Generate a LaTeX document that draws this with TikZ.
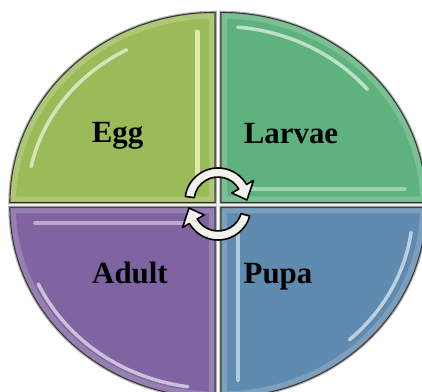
\documentclass[tikz,border=0pt]{standalone}
\usepackage{fontspec}
\setmainfont{Liberation Serif}
\usetikzlibrary{calc}

\definecolor{eggc}{HTML}{9BBB59}
\definecolor{larvaec}{HTML}{5EB27D}
\definecolor{adultc}{HTML}{8064A2}
\definecolor{pupac}{HTML}{5E8BAF}
\definecolor{arrowc}{HTML}{F2F2EC}

% one quarter of the ellipse, corner at #1, arc from #2 to #3
\newcommand{\qpath}[3]{(#1) -- ++(#2:205 and 190)
  arc[start angle=#2, end angle=#3, x radius=205, y radius=190] -- cycle}

\begin{document}
\begin{tikzpicture}[
  x=1bp, y=1bp,
  quad/.style={draw=black!85, line width=1.1bp},
  halo/.style={draw=black!30, line width=3.5bp},
  bevel/.style={draw=white, opacity=0.18, line width=12bp},
  shine/.style={draw=white, opacity=0.6, line width=3.5bp, line cap=round},
  cyc/.style={draw=black, line width=1.6bp, fill=arrowc, line join=round},
  lbl/.style={font=\fontsize{31}{31}\selectfont\bfseries, anchor=base, inner sep=0pt},
]
\useasboundingbox (0,0) rectangle (422,392);
\clip (0,0) rectangle (422,392);

\coordinate (qEgg) at (215,189.5);
\coordinate (qLarvae) at (221,189.5);
\coordinate (qAdult) at (215,184.5);
\coordinate (qPupa) at (221,184.5);

% quarters
\path[halo] \qpath{qEgg}{90}{180};
\path[halo] \qpath{qLarvae}{0}{90};
\path[halo] \qpath{qAdult}{180}{270};
\path[halo] \qpath{qPupa}{270}{360};

\path[quad, fill=eggc] \qpath{qEgg}{90}{180};
\path[quad, fill=larvaec] \qpath{qLarvae}{0}{90};
\path[quad, fill=adultc] \qpath{qAdult}{180}{270};
\path[quad, fill=pupac] \qpath{qPupa}{270}{360};

\begin{scope}
  \clip \qpath{qEgg}{90}{180};
  \path[bevel] \qpath{qEgg}{90}{180};
\end{scope}
\begin{scope}
  \clip \qpath{qLarvae}{0}{90};
  \path[bevel] \qpath{qLarvae}{0}{90};
\end{scope}
\begin{scope}
  \clip \qpath{qAdult}{180}{270};
  \path[bevel] \qpath{qAdult}{180}{270};
\end{scope}
\begin{scope}
  \clip \qpath{qPupa}{270}{360};
  \path[bevel] \qpath{qPupa}{270}{360};
\end{scope}

% highlights
\draw[shine] ($(qEgg)+(118:188 and 173)$)
  arc[start angle=118, end angle=168, x radius=188, y radius=173];
\draw[shine, draw=yellow!15, line width=5bp, opacity=0.7] (197,360) -- (197,205);
\draw[shine] ($(qLarvae)+(85:191 and 176)$)
  arc[start angle=85, end angle=40, x radius=191, y radius=176];
\draw[shine, draw=green!10, opacity=0.45] (250,203) -- (405,203);
\draw[shine, draw=violet!10, opacity=0.55] (35,169) -- (190,169);
\draw[shine] ($(qAdult)+(205:195 and 181)$)
  arc[start angle=205, end angle=262, x radius=195, y radius=181];
\draw[shine, draw=cyan!10, line width=4bp] (238,167) -- (238,12);
\draw[shine] ($(qPupa)+(-8:192 and 178)$)
  arc[start angle=-8, end angle=-48, x radius=192, y radius=178];

% cycle arrows
\draw[cyc, shift={(218,191)}] (172:33) arc[start angle=172, end angle=30, radius=33]
  -- (30:41) -- (2:29) -- (30:16) -- (30:24)
  arc[start angle=30, end angle=172, radius=24] -- cycle;
\draw[cyc, shift={(218,185)}] (-16:33) arc[start angle=-16, end angle=-150, radius=33]
  -- (-150:41) -- (-178:29) -- (-150:16) -- (-150:24)
  arc[start angle=-150, end angle=-16, radius=24] -- cycle;

% labels
\node[lbl] (egg) at (117.5,250) {Egg};
\node[lbl] (larvae) at (291,249) {Larvae};
\node[lbl] (adult) at (130,109) {Adult};
\node[lbl] (pupa) at (278,109) {Pupa};
\end{tikzpicture}
\end{document}
